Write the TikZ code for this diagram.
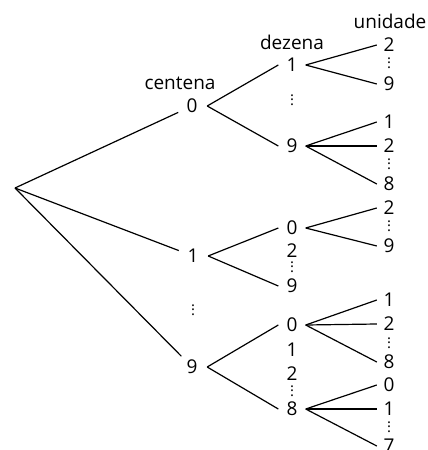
\documentclass[tikz,border=0pt]{standalone}
\usepackage{fontspec}
\setmainfont{Open Sans}
\newcommand\vdt{\vbox{\baselineskip4.5pt\lineskiplimit0pt\hbox{.}\hbox{.}\hbox{.}}}
\begin{document}
\begin{tikzpicture}[x=1pt,y=-1pt,
  font=\fontsize{19}{22}\selectfont,
  top/.style={circle,minimum size=30pt,inner sep=0pt},
  dig/.style={rectangle,minimum width=#1,minimum height=0pt,inner sep=0pt},
  dig/.default=27pt,
  lab/.style={inner sep=0pt},
  vd/.style={inner sep=0pt,font=\fontsize{15}{15}\selectfont},
  edge/.style={line width=1.2pt}]
\useasboundingbox (0,0) rectangle (428,450);
% root
\coordinate (r) at (15,188);
% labels
\node[lab] (lc) at (180,83) {centena};
\node[lab] (ld) at (292,42) {dezena};
\node[lab] (lu) at (390,21) {unidade};
% level 1
\node[top] (a0) at (192,106) {0};
\node[top] (a1) at (193,256) {1};
\node[top] (a9) at (192,367) {9};
\node[vd] (va) at (193,310) {\vdt};
% level 2
\node[dig] (b01) at (292,65) {1};
\node[vd] (vb0) at (292,100) {\vdt};
\node[dig] (b09) at (292,146) {9};
\node[dig] (b10) at (292,228) {0};
\node[dig] (b12) at (292,251) {2};
\node[vd] (vb1) at (292,267) {\vdt};
\node[dig] (b19) at (292,286) {9};
\node[dig] (b90) at (292,325) {0};
\node[dig] (b91) at (292,350) {1};
\node[dig] (b92) at (292,374) {2};
\node[vd] (vb9) at (292,391) {\vdt};
\node[dig] (b98) at (292,409) {8};
% level 3
\node[dig=24pt] (c012) at (389,45) {2};
\node[vd] (vc01) at (389,63) {\vdt};
\node[dig=24pt] (c019) at (389,84) {9};
\node[dig=24pt] (c091) at (389,122) {1};
\node[dig=24pt] (c092) at (389,146) {2};
\node[vd] (vc09) at (389,164) {\vdt};
\node[dig=24pt] (c098) at (389,184) {8};
\node[dig=24pt] (c102) at (389,208) {2};
\node[vd] (vc10) at (389,226) {\vdt};
\node[dig=24pt] (c109) at (389,246) {9};
\node[dig=24pt] (c901) at (389,300) {1};
\node[dig=24pt] (c902) at (389,324) {2};
\node[vd] (vc90) at (389,343) {\vdt};
\node[dig=24pt] (c908) at (389,362) {8};
\node[dig=24pt] (c980) at (389,385) {0};
\node[dig=24pt] (c981) at (389,409) {1};
\node[vd] (vc98) at (389,427) {\vdt};
\node[dig=24pt] (c987) at (389,446) {7};
% edges
\draw[edge] (r) -- (a0);
\draw[edge] (r) -- (a1);
\draw[edge] (r) -- (a9);
\draw[edge] (a0.east) -- (b01.west);
\draw[edge] (a0.east) -- (b09.west);
\draw[edge] (a1.east) -- (b10.west);
\draw[edge] (a1.east) -- (b19.west);
\draw[edge] (a9.east) -- (b90.west);
\draw[edge] (a9.east) -- (b98.west);
\draw[edge] (b01.east) -- (c012.west);
\draw[edge] (b01.east) -- (c019.west);
\draw[edge] (b09.east) -- (c091.west);
\draw[edge] (b09.east) -- (c092.west);
\draw[edge] (b09.east) -- (c098.west);
\draw[edge] (b10.east) -- (c102.west);
\draw[edge] (b10.east) -- (c109.west);
\draw[edge] (b90.east) -- (c901.west);
\draw[edge] (b90.east) -- (c902.west);
\draw[edge] (b90.east) -- (c908.west);
\draw[edge] (b98.east) -- (c980.west);
\draw[edge] (b98.east) -- (c981.west);
\draw[edge] (b98.east) -- (c987.west);
\end{tikzpicture}
\end{document}
